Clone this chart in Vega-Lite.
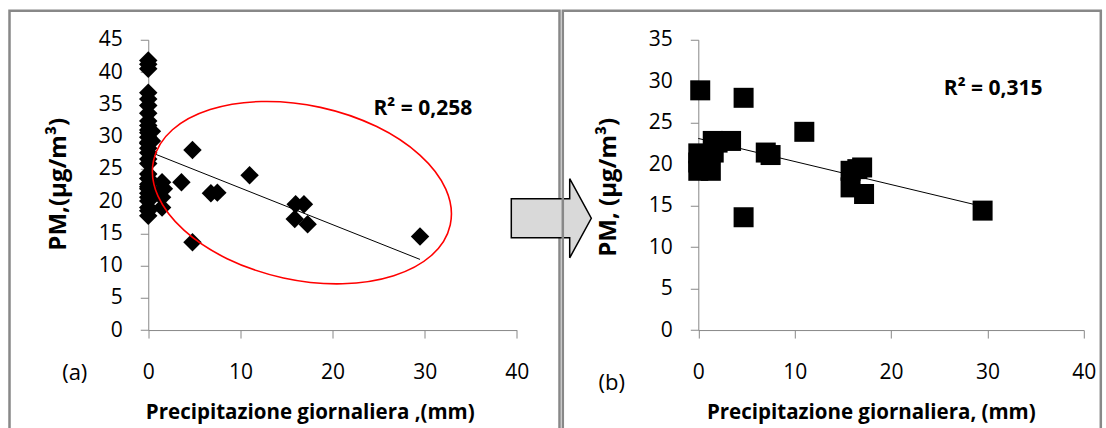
{
  "$schema": "https://vega.github.io/schema/vega-lite/v6.json",
  "background": "white",
  "padding": {"left": 7.5, "top": 8.75, "right": 4, "bottom": 0},
  "bounds": "flush",
  "spacing": 3.3,
  "config": {
    "view": {"stroke": "#888888", "strokeWidth": 2.5, "fill": null},
    "axis": {
      "grid": false,
      "domainColor": "#888888",
      "tickColor": "#888888",
      "domainWidth": 1,
      "tickWidth": 1,
      "tickSize": 8,
      "labelFont": "Open Sans",
      "labelFontSize": 21,
      "labelColor": "#000000",
      "labelOverlap": false,
      "labelFlush": false,
      "titleFont": "Open Sans",
      "titleFontSize": 20.5,
      "titleFontWeight": "bold",
      "titleColor": "#000000"
    },
    "text": {"font": "Open Sans", "color": "#000000"}
  },
  "datasets": {
    "a": [
      {"prec": 0, "pm": 41.8}, {"prec": 0, "pm": 41.2}, {"prec": 0, "pm": 40.5},
      {"prec": 0, "pm": 36.8}, {"prec": 0, "pm": 35.8}, {"prec": 0, "pm": 34.8},
      {"prec": 0, "pm": 33.6}, {"prec": 0, "pm": 32.4}, {"prec": 0, "pm": 31.7},
      {"prec": 0, "pm": 31.0}, {"prec": 0, "pm": 30.6}, {"prec": 0, "pm": 29.9},
      {"prec": 0, "pm": 29.1}, {"prec": 0, "pm": 28.9}, {"prec": 0, "pm": 28.2},
      {"prec": 0, "pm": 27.5}, {"prec": 0, "pm": 26.5}, {"prec": 0, "pm": 25.8},
      {"prec": 0, "pm": 24.2}, {"prec": 0, "pm": 23.5}, {"prec": 0, "pm": 22.6},
      {"prec": 0, "pm": 22.2}, {"prec": 0, "pm": 21.9}, {"prec": 0, "pm": 21.2},
      {"prec": 0, "pm": 20.6}, {"prec": 0, "pm": 20.0}, {"prec": 0, "pm": 19.0},
      {"prec": 0, "pm": 18.5}, {"prec": 0, "pm": 17.7},
      {"prec": 0.4, "pm": 30.8}, {"prec": 0.4, "pm": 29.3}, {"prec": 0.3, "pm": 21.5},
      {"prec": 1.5, "pm": 22.9}, {"prec": 1.7, "pm": 21.9}, {"prec": 1.5, "pm": 20.6},
      {"prec": 1.5, "pm": 19.0}, {"prec": 3.6, "pm": 22.9}, {"prec": 4.8, "pm": 27.9},
      {"prec": 4.8, "pm": 13.6}, {"prec": 6.8, "pm": 21.2}, {"prec": 7.5, "pm": 21.3},
      {"prec": 11.0, "pm": 24.0}, {"prec": 16.0, "pm": 19.5}, {"prec": 16.9, "pm": 19.5},
      {"prec": 15.9, "pm": 17.2}, {"prec": 17.3, "pm": 16.4}, {"prec": 29.5, "pm": 14.5}
    ],
    "b": [
      {"prec": 0.2, "pm": 28.9}, {"prec": 4.7, "pm": 28.0}, {"prec": 11.0, "pm": 23.9},
      {"prec": 3.4, "pm": 22.8}, {"prec": 1.5, "pm": 22.8}, {"prec": 2.0, "pm": 22.6},
      {"prec": 1.6, "pm": 21.4}, {"prec": 0, "pm": 21.3}, {"prec": 0, "pm": 20.2},
      {"prec": 0, "pm": 19.2}, {"prec": 1.3, "pm": 19.2}, {"prec": 1.0, "pm": 20.5},
      {"prec": 7.0, "pm": 21.4}, {"prec": 7.5, "pm": 21.1}, {"prec": 16.5, "pm": 19.4},
      {"prec": 15.8, "pm": 19.2}, {"prec": 17.0, "pm": 19.6}, {"prec": 15.8, "pm": 17.2},
      {"prec": 17.2, "pm": 16.4}, {"prec": 4.7, "pm": 13.6}, {"prec": 29.5, "pm": 14.4}
    ],
    "fitA": [{"prec": 0, "pm": 27.7}, {"prec": 29.5, "pm": 10.95}],
    "fitB": [{"prec": 0, "pm": 23.1}, {"prec": 29.5, "pm": 14.9}],
    "noteA": [{"label": "R² = 0,258", "panel": "(a)"}],
    "noteB": [{"label": "R² = 0,315", "panel": "(b)"}]
  },
  "hconcat": [
    {
      "width": 550,
      "height": 430,
      "layer": [
        {
          "encoding": {
            "x": {
              "field": "prec", "type": "quantitative",
              "scale": {"domain": [0, 40], "range": [138.75, 507.25], "nice": false, "zero": false},
              "axis": {
                "values": [0, 10, 20, 30, 40],
                "offset": -110.7,
                "labelBaseline": "middle",
                "labelPadding": 34,
                "title": "Precipitazione giornaliera ,(mm)",
                "titleX": 300.25, "titleY": 82.4,
                "titleAlign": "center", "titleBaseline": "middle"
              }
            },
            "y": {
              "field": "pm", "type": "quantitative",
              "scale": {"domain": [0, 45], "range": [319.3, 29], "nice": false, "zero": false},
              "axis": {
                "values": [0, 5, 10, 15, 20, 25, 30, 35, 40, 45],
                "offset": -138.75,
                "labelPadding": 18,
                "title": "PM,(μg/m³)",
                "titleX": -89.5, "titleY": 173,
                "titleAngle": -90,
                "titleFontSize": 24,
                "titleAlign": "center", "titleBaseline": "middle"
              }
            }
          },
          "layer": [
            {
              "data": {"name": "a"},
              "mark": {"type": "point", "shape": "diamond", "filled": true, "color": "#000000", "opacity": 1, "size": 340}
            },
            {
              "data": {"name": "fitA"},
              "mark": {"type": "line", "color": "#000000", "strokeWidth": 1}
            }
          ]
        },
        {
          "data": {"name": "noteA"},
          "mark": {
            "type": "point",
            "shape": "M 1 0 C 1 0.3176 0.5523 0.575 0 0.575 C -0.5523 0.575 -1 0.3176 -1 0 C -1 -0.3176 -0.5523 -0.575 0 -0.575 C 0.5523 -0.575 1 -0.3176 1 0 Z",
            "size": 92173, "angle": 12.25,
            "filled": false, "color": "#ff0000", "strokeWidth": 1.6, "opacity": 1
          },
          "encoding": {"x": {"datum": 16.68, "type": "quantitative"}, "y": {"datum": 21.3, "type": "quantitative"}}
        },
        {
          "data": {"name": "noteA"},
          "mark": {"type": "text", "fontSize": 21, "fontWeight": "bold", "align": "center", "baseline": "middle"},
          "encoding": {"x": {"datum": 29.8, "type": "quantitative"}, "y": {"datum": 34.3, "type": "quantitative"}, "text": {"field": "label"}}
        },
        {
          "data": {"name": "noteA"},
          "mark": {"type": "text", "fontSize": 22, "align": "center", "baseline": "middle"},
          "encoding": {"x": {"datum": -7.98, "type": "quantitative"}, "y": {"datum": -6.62, "type": "quantitative"}, "text": {"field": "panel"}}
        },
        {
          "data": {"name": "noteA"},
          "mark": {
            "type": "point",
            "shape": "M -1 -0.49 L 0.46 -0.49 L 0.46 -0.99 L 1 0 L 0.46 0.99 L 0.46 0.49 L -1 0.49 Z",
            "size": 6400,
            "filled": true, "fill": "#d9d9d9", "stroke": "#000000", "strokeWidth": 1.5, "opacity": 1
          },
          "encoding": {"x": {"datum": 43.75, "type": "quantitative"}, "y": {"datum": 17.33, "type": "quantitative"}}
        }
      ]
    },
    {
      "width": 538,
      "height": 430,
      "layer": [
        {
          "encoding": {
            "x": {
              "field": "prec", "type": "quantitative",
              "scale": {"domain": [0, 40], "range": [135.5, 521], "nice": false, "zero": false},
              "axis": {
                "values": [0, 10, 20, 30, 40],
                "offset": -110.7,
                "labelBaseline": "middle",
                "labelPadding": 34,
                "title": "Precipitazione giornaliera, (mm)",
                "titleX": 308, "titleY": 82.4,
                "titleAlign": "center", "titleBaseline": "middle"
              }
            },
            "y": {
              "field": "pm", "type": "quantitative",
              "scale": {"domain": [0, 35], "range": [319.3, 29], "nice": false, "zero": false},
              "axis": {
                "values": [0, 5, 10, 15, 20, 25, 30, 35],
                "offset": -135.5,
                "labelPadding": 18,
                "title": "PM, (μg/m³)",
                "titleX": -89.5, "titleY": 176,
                "titleAngle": -90,
                "titleFontSize": 24,
                "titleAlign": "center", "titleBaseline": "middle"
              }
            }
          },
          "layer": [
            {
              "data": {"name": "b"},
              "mark": {"type": "point", "shape": "square", "filled": true, "color": "#000000", "opacity": 1, "size": 400}
            },
            {
              "data": {"name": "fitB"},
              "mark": {"type": "line", "color": "#000000", "strokeWidth": 1}
            }
          ]
        },
        {
          "data": {"name": "noteB"},
          "mark": {"type": "text", "fontSize": 21, "fontWeight": "bold", "align": "center", "baseline": "middle"},
          "encoding": {"x": {"datum": 30.6, "type": "quantitative"}, "y": {"datum": 29.1, "type": "quantitative"}, "text": {"field": "label"}}
        },
        {
          "data": {"name": "noteB"},
          "mark": {"type": "text", "fontSize": 22, "align": "center", "baseline": "middle"},
          "encoding": {"x": {"datum": -8.98, "type": "quantitative"}, "y": {"datum": -6.35, "type": "quantitative"}, "text": {"field": "panel"}}
        }
      ]
    }
  ]
}
